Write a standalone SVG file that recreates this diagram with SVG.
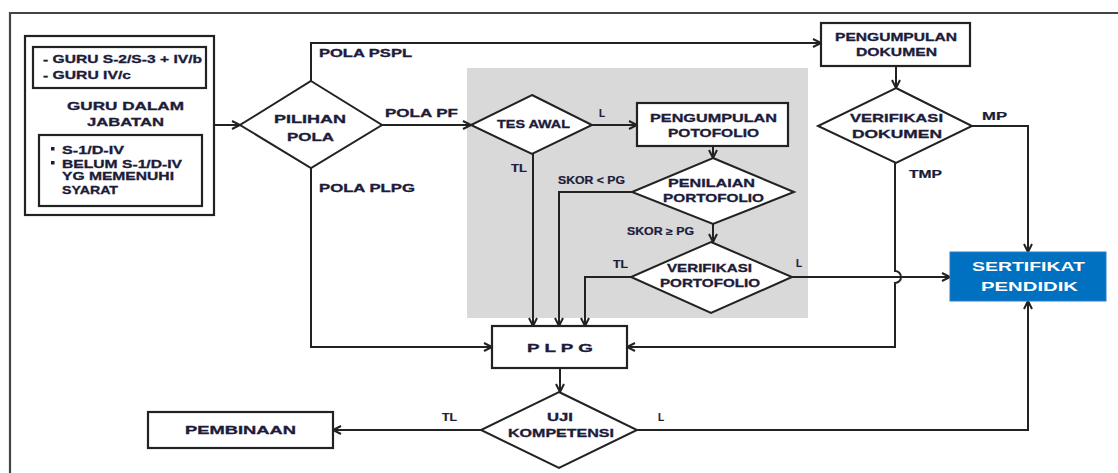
<svg xmlns="http://www.w3.org/2000/svg" width="1118" height="473" viewBox="0 0 1118 473">
<defs>
<marker id="arr" markerUnits="userSpaceOnUse" markerWidth="12" markerHeight="12" refX="9" refY="5" orient="auto">
<path d="M1,1 L9,5 L1,9" fill="none" stroke="#222" stroke-width="2"/>
</marker>
<style>
.box{fill:#fff;stroke:#222;stroke-width:2.2}
.dia{fill:#fff;stroke:#222;stroke-width:2}
.t{font-family:"Liberation Sans",Arial,sans-serif;font-weight:bold;font-size:11px;fill:#1c1c3a;stroke:#1c1c3a;stroke-width:0.3}
.s{font-family:"Liberation Sans",Arial,sans-serif;font-weight:bold;font-size:10px;fill:#1c1c3a;stroke:#1c1c3a;stroke-width:0.2}
.w{font-family:"Liberation Sans",Arial,sans-serif;font-weight:bold;font-size:12px;fill:#fff}
.c{fill:none;stroke:#222;stroke-width:2}
.ca{fill:none;stroke:#222;stroke-width:2;marker-end:url(#arr)}
</style>
</defs>
<rect width="1118" height="473" fill="#fff"/>
<path d="M10,473 V13 H1118" fill="none" stroke="#444" stroke-width="2.2"/>
<rect x="467" y="68" width="341" height="250" fill="#d9d9d9"/>

<g id="guru">
<rect class="box" x="25" y="36" width="189" height="179"/>
<rect class="box" x="33" y="47" width="173" height="41"/>
<text class="t" x="43" y="63" textLength="159" lengthAdjust="spacingAndGlyphs">- GURU S-2/S-3 + IV/b</text>
<text class="t" x="43" y="79" textLength="88" lengthAdjust="spacingAndGlyphs">- GURU IV/c</text>
<text class="t" x="67" y="110" textLength="117" lengthAdjust="spacingAndGlyphs">GURU DALAM</text>
<text class="t" x="87" y="126" textLength="77" lengthAdjust="spacingAndGlyphs">JABATAN</text>
<rect class="box" x="39" y="135" width="163" height="71"/>
<rect x="51" y="147" width="3.5" height="3.5" fill="#1c1c3a"/>
<rect x="51" y="161" width="3.5" height="3.5" fill="#1c1c3a"/>
<text class="t" x="62" y="154" textLength="62" lengthAdjust="spacingAndGlyphs">S-1/D-IV</text>
<text class="t" x="62" y="168" textLength="120" lengthAdjust="spacingAndGlyphs">BELUM S-1/D-IV</text>
<text class="t" x="62" y="180" textLength="112" lengthAdjust="spacingAndGlyphs">YG MEMENUHI</text>
<text class="t" x="62" y="194" textLength="56" lengthAdjust="spacingAndGlyphs">SYARAT</text>
</g>

<g id="connectors">
<path class="ca" d="M214,125 H240"/>
<path class="ca" d="M311,81 V43 H821"/>
<path class="ca" d="M382,125 H471"/>
<path class="ca" d="M311,168 V347 H492"/>
<path class="ca" d="M592,125 H637"/>
<path class="ca" d="M533,154 V326"/>
<path class="ca" d="M713,146 V158"/>
<path class="ca" d="M632,192 H559 V326"/>
<path class="ca" d="M713,224 V242"/>
<path class="ca" d="M631,277 H585 V326"/>
<path class="ca" d="M792,277 H950"/>
<path class="ca" d="M896,66 V88"/>
<path class="ca" d="M972,126 H1028 V252"/>
<path class="ca" d="M895,163 V271 A6,6 0 0 1 895,283 V347 H627"/>
<path class="ca" d="M560,368 V392"/>
<path class="ca" d="M481,430 H333"/>
<path class="ca" d="M637,430 H1028 V301"/>
</g>

<g id="labels">
<text class="t" x="319" y="57" textLength="93" lengthAdjust="spacingAndGlyphs">POLA PSPL</text>
<text class="t" x="385" y="117" textLength="73" lengthAdjust="spacingAndGlyphs">POLA PF</text>
<text class="t" x="319" y="192" textLength="96" lengthAdjust="spacingAndGlyphs">POLA PLPG</text>
<text class="s" x="599" y="117">L</text>
<text class="s" x="511" y="172" textLength="16" lengthAdjust="spacingAndGlyphs">TL</text>
<text class="s" x="558" y="184" textLength="67" lengthAdjust="spacingAndGlyphs">SKOR &lt; PG</text>
<text class="s" x="627" y="235" textLength="67" lengthAdjust="spacingAndGlyphs">SKOR ≥ PG</text>
<text class="s" x="613" y="268" textLength="15" lengthAdjust="spacingAndGlyphs">TL</text>
<text class="s" x="796" y="267">L</text>
<text class="s" x="982" y="120" textLength="25" lengthAdjust="spacingAndGlyphs">MP</text>
<text class="s" x="909" y="178" textLength="33" lengthAdjust="spacingAndGlyphs">TMP</text>
<text class="s" x="442" y="421" textLength="15" lengthAdjust="spacingAndGlyphs">TL</text>
<text class="s" x="658" y="421">L</text>
</g>

<g id="pilihan-pola">
<polygon class="dia" points="311,81 382,125 311,168 240,125"/>
<text class="t" x="274" y="123" textLength="72" lengthAdjust="spacingAndGlyphs">PILIHAN</text>
<text class="t" x="287" y="141" textLength="47" lengthAdjust="spacingAndGlyphs">POLA</text>
</g>

<g id="tes-awal">
<polygon class="dia" points="532,95 592,125 532,154 471,125"/>
<text class="t" x="497" y="128" textLength="73" lengthAdjust="spacingAndGlyphs">TES AWAL</text>
</g>

<g id="pengumpulan-potofolio">
<rect class="box" x="637" y="103" width="151" height="43"/>
<text class="t" x="650" y="122" textLength="127" lengthAdjust="spacingAndGlyphs">PENGUMPULAN</text>
<text class="t" x="668" y="137" textLength="91" lengthAdjust="spacingAndGlyphs">POTOFOLIO</text>
</g>

<g id="penilaian-portofolio">
<polygon class="dia" points="713,158 794,192 713,224 632,192"/>
<text class="t" x="668" y="187" textLength="87" lengthAdjust="spacingAndGlyphs">PENILAIAN</text>
<text class="t" x="663" y="202" textLength="101" lengthAdjust="spacingAndGlyphs">PORTOFOLIO</text>
</g>

<g id="verifikasi-portofolio">
<polygon class="dia" points="711,242 792,277 711,313 631,277"/>
<text class="t" x="667" y="272" textLength="85" lengthAdjust="spacingAndGlyphs">VERIFIKASI</text>
<text class="t" x="660" y="287" textLength="100" lengthAdjust="spacingAndGlyphs">PORTOFOLIO</text>
</g>

<g id="pengumpulan-dokumen">
<rect class="box" x="821" y="23" width="149" height="43"/>
<text class="t" x="835" y="41" textLength="122" lengthAdjust="spacingAndGlyphs">PENGUMPULAN</text>
<text class="t" x="856" y="56" textLength="81" lengthAdjust="spacingAndGlyphs">DOKUMEN</text>
</g>

<g id="verifikasi-dokumen">
<polygon class="dia" points="896,88 972,126 896,163 818,126"/>
<text class="t" x="850" y="122" textLength="93" lengthAdjust="spacingAndGlyphs">VERIFIKASI</text>
<text class="t" x="852" y="138" textLength="90" lengthAdjust="spacingAndGlyphs">DOKUMEN</text>
</g>

<g id="sertifikat">
<rect x="950" y="252" width="156" height="49" fill="#0070c0" stroke="#2a7fc8" stroke-width="1"/>
<text class="w" x="972" y="271" textLength="113" lengthAdjust="spacingAndGlyphs">SERTIFIKAT</text>
<text class="w" x="981" y="291" textLength="97" lengthAdjust="spacingAndGlyphs">PENDIDIK</text>
</g>

<g id="plpg">
<rect class="box" x="492" y="326" width="135" height="42"/>
<text class="t" x="527" y="352" font-size="12" textLength="66" lengthAdjust="spacingAndGlyphs">P L P G</text>
</g>

<g id="uji-kompetensi">
<polygon class="dia" points="559,392 637,430 559,468 481,430"/>
<text class="t" x="547" y="421" textLength="26" lengthAdjust="spacingAndGlyphs">UJI</text>
<text class="t" x="508" y="437" textLength="106" lengthAdjust="spacingAndGlyphs">KOMPETENSI</text>
</g>

<g id="pembinaan">
<rect class="box" x="148" y="412" width="185" height="36"/>
<text class="t" x="185" y="434" textLength="111" lengthAdjust="spacingAndGlyphs">PEMBINAAN</text>
</g>
</svg>
